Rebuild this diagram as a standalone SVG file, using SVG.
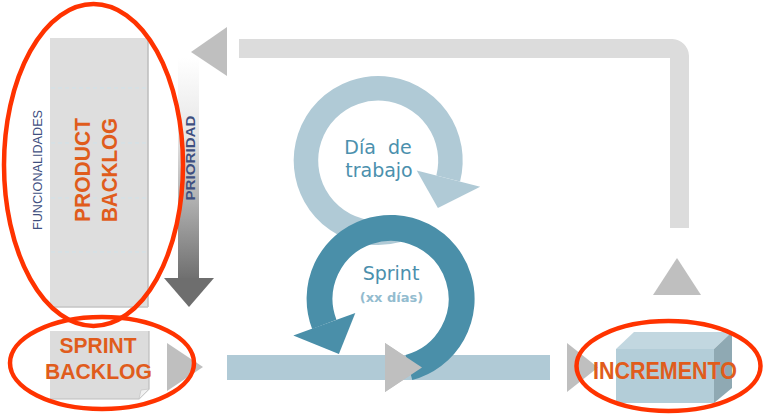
<svg xmlns="http://www.w3.org/2000/svg" width="765" height="420" viewBox="0 0 765 420">
<style>
.tri{fill:#bfbfbf}
.orange{font-family:"Liberation Sans",Arial,sans-serif;font-weight:bold;fill:#e05c1c;text-anchor:middle}
.blue{font-family:"Liberation Sans",Arial,sans-serif;font-weight:bold;fill:#3f4f7f;text-anchor:middle}
.ring{font-family:"DejaVu Sans",Verdana,sans-serif;text-anchor:middle}
.oval{fill:none;stroke:#ff3300;stroke-width:4.5}
.dash{stroke:#cfe2ea;stroke-width:1;stroke-dasharray:4 3}
</style>
<defs>
<linearGradient id="prio" x1="0" y1="0" x2="0" y2="1">
<stop offset="0" stop-color="#ffffff"/>
<stop offset="0.35" stop-color="#e6e6e6"/>
<stop offset="1" stop-color="#6e6e6e"/>
</linearGradient>
</defs>
<rect width="765" height="420" fill="#ffffff"/>

<g id="connectors">
<path d="M239 48.5 H672 A8 8 0 0 1 679.5 56 V228" fill="none" stroke="#dcdcdc" stroke-width="19"/>
<polygon class="tri" points="191,52 227,27 227,76"/>
<polygon class="tri" points="677,258 653,295 701,295"/>
<rect x="227" y="355" width="323" height="25" fill="#b0cad6"/>
<polygon class="tri" points="167,343 167,391 203,367"/>
<polygon class="tri" points="385,343 385,392 422,367.5"/>
<polygon class="tri" points="567,343 567,392 598,367.5"/>
</g>

<g id="prioridad">
<rect x="178" y="58" width="21" height="222" fill="url(#prio)"/>
<polygon points="164,278 214,278 189,307" fill="#6e6e6e"/>
<text class="blue" font-size="13" textLength="85" lengthAdjust="spacingAndGlyphs" transform="translate(195,158) rotate(-90)">PRIORIDAD</text>
</g>

<g id="product-backlog">
<rect x="50" y="38" width="98" height="269" fill="#dedede"/>
<line x1="148" y1="38" x2="148" y2="307" stroke="#bcbcbc" stroke-width="1.5"/>
<line x1="50" y1="307" x2="148" y2="307" stroke="#c4c4c4" stroke-width="1.5"/>
<line class="dash" x1="51" y1="88" x2="147" y2="88"/>
<line class="dash" x1="51" y1="143" x2="147" y2="143"/>
<line class="dash" x1="51" y1="198" x2="147" y2="198"/>
<line class="dash" x1="51" y1="252" x2="147" y2="252"/>
<text class="orange" font-size="22" textLength="104" lengthAdjust="spacingAndGlyphs" transform="translate(90,170) rotate(-90)">PRODUCT</text>
<text class="orange" font-size="22" textLength="104" lengthAdjust="spacingAndGlyphs" transform="translate(117,170) rotate(-90)">BACKLOG</text>
<text class="blue" font-size="13.5" textLength="120" lengthAdjust="spacingAndGlyphs" transform="translate(42,170) rotate(-90)" style="font-weight:normal">FUNCIONALIDADES</text>
</g>

<g id="dia-de-trabajo">
<path d="M448.2 178.5 A72.25 72.25 0 1 0 397.2 230.3" fill="none" stroke="#b0cad6" stroke-width="24.5"/>
<polygon points="416.7,170.4 480.2,186.8 437.9,207.9" fill="#b0cad6"/>
<text class="ring" font-size="19" fill="#4b90ad" x="378" y="154" xml:space="preserve">Día  de</text>
<text class="ring" font-size="19" fill="#4b90ad" x="379" y="177">trabajo</text>
</g>

<g id="sprint">
<path d="M408.9 367.5 A71 71 0 1 0 324.3 324.3" fill="none" stroke="#4a8fa9" stroke-width="26"/>
<polygon points="355.3,313 293.3,335.6 338.9,353.9" fill="#4a8fa9"/>
<text class="ring" font-size="19" fill="#4b90ad" x="391" y="280">Sprint</text>
<text class="ring" font-size="13" font-weight="bold" fill="#93bccf" x="391.5" y="302">(xx días)</text>
</g>

<g id="band-front">
<rect x="227" y="355" width="158" height="25" fill="#b0cad6"/>
<polygon class="tri" points="385,343 385,392 422,367.5"/>
</g>

<g id="sprint-backlog">
<path d="M50 331 H149 V389 L139 399 H50 Z" fill="#dcdcdc"/>
<path d="M149 331 V389 L139 399 H50" fill="none" stroke="#bdbdbd" stroke-width="1.2"/>
<path d="M139 399 L141 390 L149 389 Z" fill="#f2f2f2" stroke="#c8c8c8" stroke-width="0.8"/>
<text class="orange" font-size="22" textLength="77" lengthAdjust="spacingAndGlyphs" x="98" y="353">SPRINT</text>
<text class="orange" font-size="22" textLength="107" lengthAdjust="spacingAndGlyphs" x="98.5" y="379">BACKLOG</text>
</g>

<g id="incremento">
<polygon points="616,349 714,349 732,332 634,332" fill="#c2d7e0"/>
<polygon points="714,349 732,332 732,388 714,403" fill="#8fa9b3"/>
<rect x="616" y="349" width="98" height="54" fill="#b3cdd8"/>
<text class="orange" font-size="23" textLength="144" lengthAdjust="spacingAndGlyphs" x="665" y="379">INCREMENTO</text>
</g>

<g id="highlights">
<ellipse class="oval" cx="93.5" cy="165" rx="89.5" ry="161"/>
<ellipse class="oval" cx="102" cy="363" rx="92" ry="46"/>
<ellipse class="oval" cx="668.5" cy="366" rx="92" ry="45"/>
</g>
</svg>
